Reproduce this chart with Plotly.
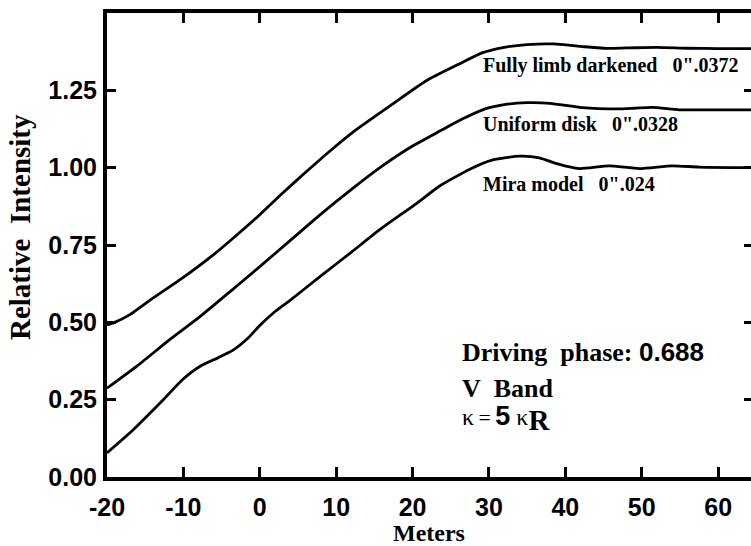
import plotly.graph_objects as go

# Visibility curves versus baseline (meters)
limb_x = [-20, -19, -17, -14.4, -10.2, -6, -3.5, 0, 3, 6, 9, 12.2, 17.4, 21.8,
          26.1, 29.1, 32, 35, 38.5, 42, 45, 48, 52, 56, 60, 64.5]
limb_y = [0.492, 0.50, 0.525, 0.571, 0.642, 0.72, 0.772, 0.848, 0.918, 0.985, 1.05, 1.115,
          1.206, 1.281, 1.335, 1.371, 1.389, 1.398, 1.40, 1.392, 1.386, 1.387, 1.389,
          1.386, 1.385, 1.385]

disk_x = [-20, -16, -12, -8, -4, 0, 4, 8, 12, 16, 20, 23.7, 26.5, 29.5, 32, 35, 38,
          42.2, 46.7, 49, 51.4, 54.9, 58, 64.5]
disk_y = [0.287, 0.36, 0.44, 0.515, 0.597, 0.68, 0.765, 0.85, 0.93, 1.005, 1.07, 1.12,
          1.157, 1.19, 1.204, 1.21, 1.208, 1.194, 1.19, 1.192, 1.195, 1.187, 1.187, 1.187]

mira_x = [-20, -16.6, -12.7, -10.1, -7.8, -5.5, -3.5, -1.5, 0, 2, 4, 8, 12, 16, 20.5,
          23.5, 27.5, 30.5, 34, 36.6, 39, 41.8, 45.7, 49.7, 54, 57.5, 64.5]
mira_y = [0.078, 0.152, 0.248, 0.315, 0.358, 0.385, 0.41, 0.45, 0.49, 0.535, 0.572, 0.65,
          0.727, 0.805, 0.884, 0.94, 0.995, 1.025, 1.037, 1.032, 1.012, 0.997, 1.006, 0.997,
          1.006, 1.002, 1.0]

curve_labels = ["Fully\u00a0limb\u00a0darkened\u00a0\u00a0\u00a00\".0372",
                "Uniform\u00a0disk\u00a0\u00a0\u00a00\".0328",
                "Mira\u00a0model\u00a0\u00a0\u00a00\".024"]
label_x = [29.0, 29.0, 29.0]
label_y = [1.329, 1.142, 0.948]

x_ticks = [-20, -10, 0, 10, 20, 30, 40, 50, 60]
y_ticks = [0.0, 0.25, 0.5, 0.75, 1.0, 1.25]
y_tick_text = ["0.00", "0.25", "0.50", "0.75", "1.00", "1.25"]

SERIF = "Liberation Serif"
SANS = "Liberation Sans"

fig = go.Figure()
for xs, ys in [(limb_x, limb_y), (disk_x, disk_y), (mira_x, mira_y)]:
    fig.add_trace(go.Scatter(x=xs, y=ys, mode="lines",
                             line=dict(color="black", width=2.8, shape="spline", smoothing=0.6),
                             hoverinfo="skip", showlegend=False))

# invisible trace so the right-hand tick axis is drawn
fig.add_trace(go.Scatter(x=mira_x, y=mira_y, mode="lines", yaxis="y2", opacity=0,
                         hoverinfo="skip", showlegend=False))

for txt, lx, ly in zip(curve_labels, label_x, label_y):
    fig.add_annotation(x=lx, y=ly, text="<b>" + txt + "</b>", showarrow=False,
                       xanchor="left", yanchor="middle",
                       font=dict(family=SERIF, size=20, color="black"))

fig.add_annotation(x=26.2, y=0.403, xanchor="left", yanchor="middle", showarrow=False,
                   text="<b>Driving\u00a0\u00a0phase:</b>\u00a0<span style='font-family:Liberation Sans'><b>0.688</b></span>",
                   font=dict(family=SERIF, size=26, color="black"))
fig.add_annotation(x=26.2, y=0.287, xanchor="left", yanchor="middle", showarrow=False,
                   text="<b>V\u00a0\u00a0Band</b>",
                   font=dict(family=SERIF, size=26, color="black"))
fig.add_annotation(x=26.2, y=0.19, xanchor="left", yanchor="middle", showarrow=False,
                   text="<span style='font-size:24px'>κ</span><span style='font-size:22px'>\u2009=\u2009</span>"
                        "<span style='font-family:Liberation Sans;font-size:27px'><b>5</b></span>"
                        "\u00a0<span style='font-size:24px'>κ</span>"
                        "<sub><span style='font-size:29px'><b>R</b></span></sub>",
                   font=dict(family=SERIF, size=24, color="black"))

# axis titles placed relative to the plotting area
fig.add_annotation(xref="paper", yref="paper", x=0.5, y=0, yshift=-56,
                   xanchor="center", yanchor="middle", showarrow=False,
                   text="<b>Meters</b>", font=dict(family=SERIF, size=24, color="black"))
fig.add_annotation(xref="paper", yref="paper", x=0, y=0.5, xshift=-87, yshift=18,
                   xanchor="center", yanchor="middle", showarrow=False, textangle=-90,
                   text="<b>Relative\u00a0\u00a0Intensity</b>",
                   font=dict(family=SERIF, size=29, color="black"))

fig.update_layout(
    width=751, height=546,
    margin=dict(l=107, r=0, t=13, b=69, autoexpand=False),
    paper_bgcolor="white", plot_bgcolor="white",
    xaxis=dict(range=[-20, 64.3], tickvals=x_ticks, ticktext=[str(v) for v in x_ticks],
               showgrid=False, zeroline=False, showline=True, linewidth=4, linecolor="black",
               mirror="ticks", ticks="inside", ticklen=10, tickwidth=3, tickcolor="black",
               ticklabelstandoff=5, automargin=False,
               tickfont=dict(family=SANS, size=25, color="black", weight="bold")),
    yaxis=dict(range=[0, 1.5], tickvals=y_ticks, ticktext=y_tick_text,
               showgrid=False, zeroline=False, showline=True, linewidth=4, linecolor="black",
               ticks="inside", ticklen=9, tickwidth=3, tickcolor="black",
               ticklabelstandoff=1, automargin=False,
               tickfont=dict(family=SANS, size=25, color="black", weight="bold")),
    yaxis2=dict(range=[0, 1.5], overlaying="y", side="right", tickvals=y_ticks,
                showticklabels=False, showgrid=False, zeroline=False, showline=False,
                ticks="inside", ticklen=7, tickwidth=3, tickcolor="black", automargin=False),
)

fig.write_html("out.html")
